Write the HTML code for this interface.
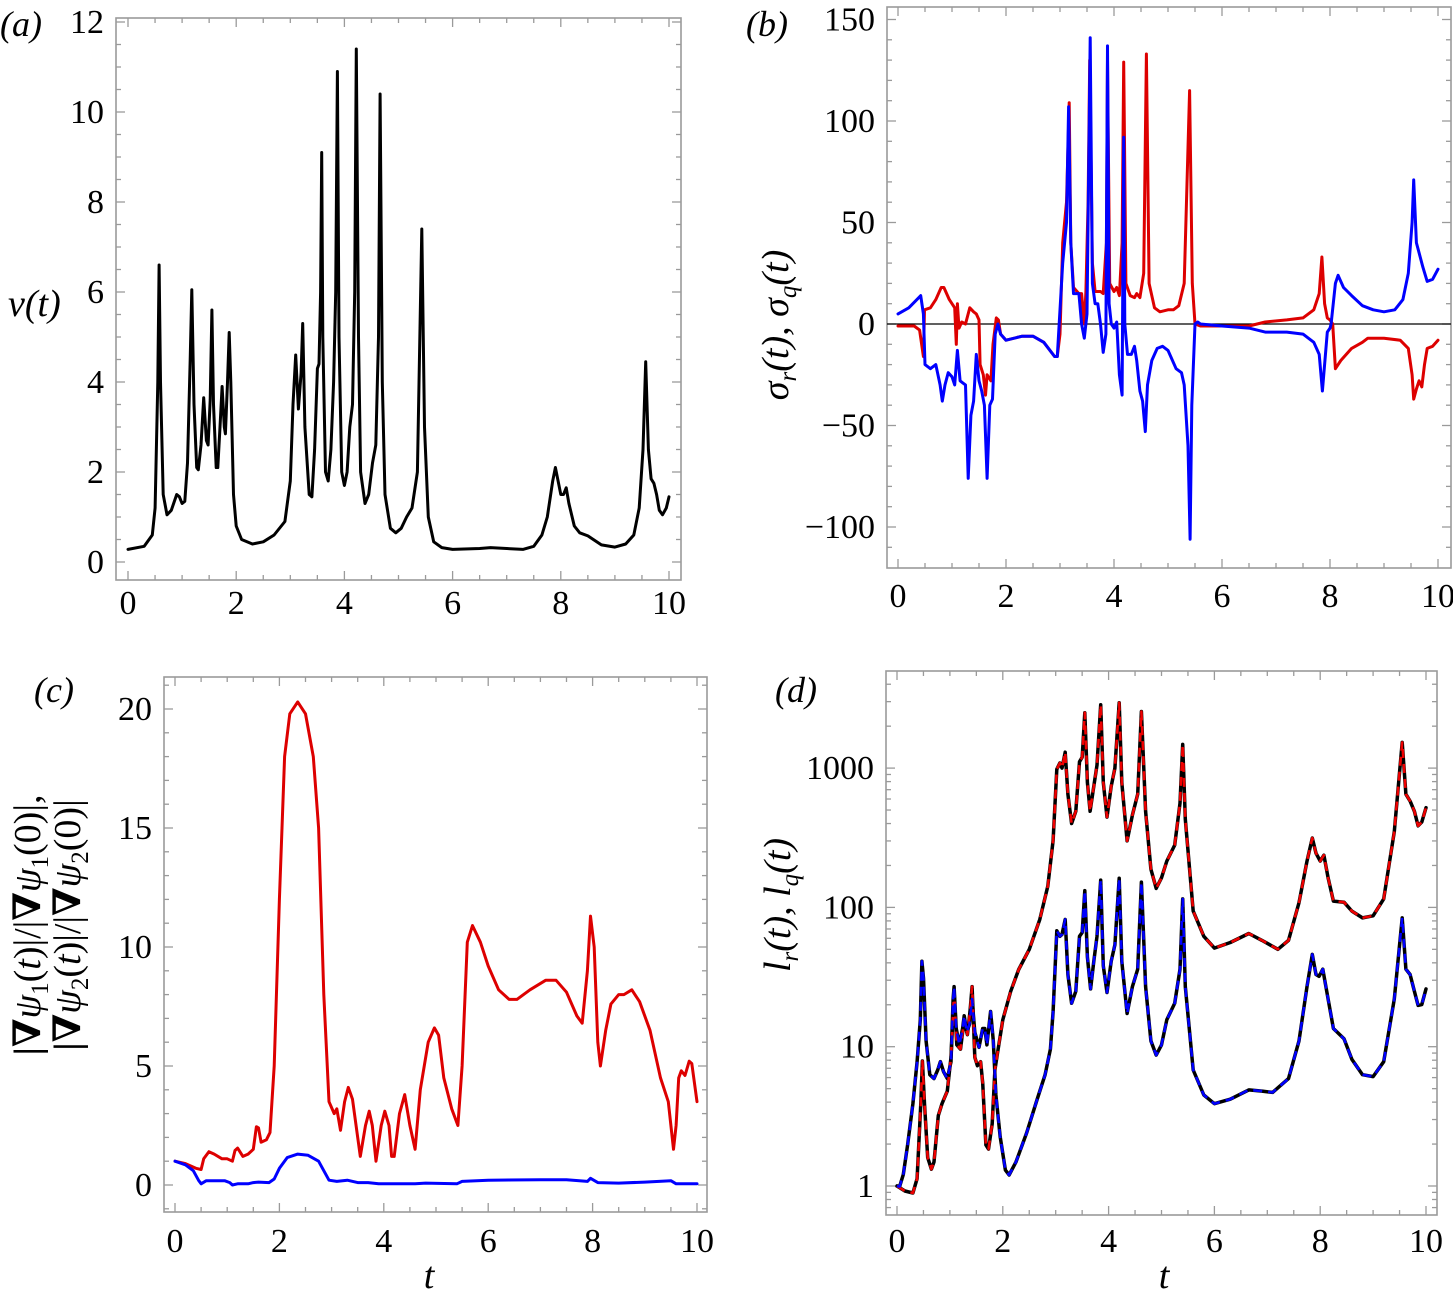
<!DOCTYPE html>
<html><head><meta charset="utf-8">
<style>
html,body{margin:0;padding:0;background:#fff;}
svg, svg text{font-family:"Liberation Serif","DejaVu Serif",serif;}
</style></head>
<body>
<svg id="fig" width="1453" height="1299" viewBox="0 0 1453 1299" xmlns="http://www.w3.org/2000/svg" font-family="Liberation Serif, DejaVu Serif, serif">
<g font-size="36" font-style="italic">
<text x="0" y="36">(a)</text>
<text x="746" y="36">(b)</text>
<text x="34" y="702">(c)</text>
<text x="775" y="702">(d)</text>
</g>
<text x="8" y="316" font-size="38" font-style="italic">v(t)</text>
<text transform="translate(788,325) rotate(-90)" text-anchor="middle" font-size="38" font-style="italic">σ<tspan font-size="25" dy="8">r</tspan><tspan dy="-8">(t), σ</tspan><tspan font-size="25" dy="8">q</tspan><tspan dy="-8">(t)</tspan></text>
<g font-size="38">
<text transform="translate(40,925) rotate(-90)" text-anchor="middle"><tspan font-weight="bold">|∇</tspan><tspan font-style="italic">ψ</tspan><tspan font-size="25" dy="8">1</tspan><tspan dy="-8">(</tspan><tspan font-style="italic">t</tspan>)|/|<tspan font-weight="bold">∇</tspan><tspan font-style="italic">ψ</tspan><tspan font-size="25" dy="8">1</tspan><tspan dy="-8">(0)|,</tspan></text>
<text transform="translate(80,925) rotate(-90)" text-anchor="middle"><tspan font-weight="bold">|∇</tspan><tspan font-style="italic">ψ</tspan><tspan font-size="25" dy="8">2</tspan><tspan dy="-8">(</tspan><tspan font-style="italic">t</tspan>)|/|<tspan font-weight="bold">∇</tspan><tspan font-style="italic">ψ</tspan><tspan font-size="25" dy="8">2</tspan><tspan dy="-8">(0)|</tspan></text>
</g>
<text transform="translate(790,905) rotate(-90)" text-anchor="middle" font-size="38" font-style="italic">l<tspan font-size="25" dy="8">r</tspan><tspan dy="-8">(t), l</tspan><tspan font-size="25" dy="8">q</tspan><tspan dy="-8">(t)</tspan></text>
<text x="429" y="1288" text-anchor="middle" font-size="38" font-style="italic">t</text>
<text x="1164" y="1288" text-anchor="middle" font-size="38" font-style="italic">t</text>
</svg>
<script>
// ---------- Panel (a) data ----------
const aT=[0,0.3,0.45,0.5,0.55,0.575,0.6,0.65,0.72,0.8,0.9,0.95,1.0,1.05,1.1,1.15,1.18,1.22,1.27,1.3,1.35,1.4,1.45,1.48,1.52,1.55,1.58,1.63,1.66,1.7,1.74,1.78,1.8,1.84,1.87,1.9,1.95,2.0,2.1,2.3,2.5,2.7,2.9,3.0,3.05,3.1,3.15,3.2,3.23,3.27,3.35,3.4,3.45,3.5,3.53,3.56,3.58,3.6,3.65,3.7,3.75,3.8,3.84,3.87,3.9,3.95,4.0,4.05,4.1,4.15,4.19,4.22,4.26,4.3,4.38,4.45,4.52,4.58,4.63,4.66,4.7,4.75,4.85,4.95,5.05,5.15,5.25,5.35,5.43,5.48,5.55,5.65,5.8,6.0,6.5,6.7,7.0,7.3,7.5,7.65,7.75,7.85,7.9,7.95,8.0,8.05,8.1,8.15,8.25,8.35,8.5,8.6,8.75,9.0,9.2,9.35,9.45,9.52,9.57,9.62,9.67,9.72,9.77,9.82,9.88,9.95,10];
const aV=[0.28,0.35,0.6,1.2,4,6.6,4,1.5,1.05,1.15,1.5,1.45,1.3,1.35,2.2,4.5,6.05,3.5,2.1,2.05,2.6,3.65,2.7,2.6,3.6,5.6,3.5,2.1,2.1,3,3.9,3.0,2.85,4,5.1,4,1.5,0.8,0.5,0.4,0.45,0.6,0.9,1.8,3.5,4.6,3.4,4.2,5.3,3,1.5,1.45,2.5,4.3,4.4,6,9.1,5,2,1.8,2.5,4,6,10.9,5,2,1.7,2,3.0,3.5,6,11.4,5,2,1.3,1.5,2.2,2.6,5,10.4,4,1.5,0.75,0.65,0.75,1.0,1.2,2,7.4,3,1,0.45,0.32,0.28,0.3,0.32,0.3,0.28,0.35,0.6,1.0,1.8,2.1,1.8,1.5,1.5,1.65,1.3,0.8,0.65,0.58,0.5,0.38,0.33,0.4,0.6,1.2,2.5,4.45,2.5,1.85,1.75,1.5,1.15,1.05,1.2,1.45];
const aXTicks=[0,2,4,6,8,10];
const aYTicks=[0,2,4,6,8,10,12];

// ---------- Panel (b) data ----------
const bRedT=[0,0.3,0.4,0.47,0.49,0.6,0.7,0.8,0.85,0.95,1.05,1.08,1.1,1.13,1.18,1.25,1.33,1.4,1.45,1.5,1.52,1.58,1.62,1.65,1.72,1.76,1.82,1.86,1.9,2.0,2.3,2.5,2.7,2.9,2.95,3.0,3.05,3.12,3.17,3.2,3.25,3.35,3.4,3.45,3.48,3.52,3.55,3.6,3.65,3.75,3.8,3.86,3.88,3.92,4.0,4.05,4.1,4.15,4.18,4.22,4.3,4.38,4.42,4.48,4.55,4.6,4.65,4.75,4.85,5.0,5.1,5.2,5.3,5.4,5.45,5.5,5.6,6.0,6.5,6.8,7.2,7.5,7.7,7.8,7.85,7.9,7.95,8.0,8.05,8.1,8.2,8.4,8.6,8.7,9.0,9.3,9.45,9.52,9.55,9.6,9.65,9.7,9.75,9.8,9.9,10];
const bRedV=[-1,-1,-3,-16,7,8,12,18,18,12,8,-10,10,-2,1,0,8,6,5,2,-20,-25,-35,-25,-28,-10,3,2,-5,-8,-6,-6,-9,-16,-16,-5,40,60,109,40,18,15,15,0,16,60,130,30,16,16,15,40,130,20,16,18,14,40,129,20,14,13,15,13,25,133,20,8,6,7,7,9,20,115,20,0,-1,-1,-1,1,2,3,7,15,33,10,3,2,0,-22,-18,-12,-9,-7,-7,-8,-12,-25,-37,-32,-28,-31,-20,-12,-11,-8];
const bBlueT=[0,0.2,0.35,0.42,0.47,0.5,0.6,0.7,0.78,0.82,0.87,0.93,1.0,1.05,1.1,1.15,1.2,1.25,1.3,1.35,1.4,1.45,1.5,1.55,1.6,1.65,1.7,1.75,1.8,1.85,1.9,2.0,2.3,2.5,2.7,2.9,2.95,3.05,3.12,3.16,3.2,3.25,3.35,3.4,3.45,3.5,3.56,3.6,3.65,3.7,3.75,3.8,3.85,3.88,3.91,3.95,4.0,4.05,4.1,4.15,4.18,4.2,4.25,4.32,4.38,4.42,4.48,4.53,4.58,4.62,4.7,4.8,4.9,5.0,5.15,5.25,5.3,5.37,5.41,5.44,5.5,5.55,5.6,6.0,6.5,6.8,7.2,7.5,7.7,7.8,7.86,7.9,7.95,8.0,8.02,8.1,8.15,8.25,8.4,8.6,8.8,9.0,9.2,9.35,9.45,9.52,9.55,9.6,9.65,9.72,9.8,9.9,10];
const bBlueV=[5,8,12,14,5,-20,-22,-20,-30,-38,-30,-24,-26,-30,-13,-28,-29,-30,-76,-45,-38,-15,-28,-33,-40,-76,-40,-37,-5,0,-5,-8,-6,-6,-9,-16,-16,30,50,107,40,15,15,0,-7,5,141,20,10,10,0,-14,-5,137,10,0,-2,1,-25,-35,92,0,-15,-15,-11,-18,-33,-38,-53,-30,-18,-12,-11,-13,-22,-24,-30,-60,-106,-40,0,1,0,-1,-2,-4,-4,-5,-9,-15,-33,-20,-4,-2,0,20,24,18,14,9,7,6,7,12,25,50,71,40,35,28,21,22,27];
const bXTicks=[0,2,4,6,8,10];
const bYTicks=[-100,-50,0,50,100,150];
const bYTickLabels=["\u2212100","\u221250","0","50","100","150"];

// ---------- Panel (c) data ----------
const cRedT=[0,0.2,0.4,0.5,0.55,0.65,0.75,0.9,1.0,1.1,1.15,1.2,1.3,1.4,1.5,1.56,1.6,1.65,1.75,1.82,1.9,2.0,2.1,2.2,2.35,2.5,2.65,2.75,2.85,2.95,3.05,3.1,3.17,3.25,3.32,3.4,3.5,3.55,3.65,3.72,3.78,3.85,3.95,4.02,4.1,4.15,4.2,4.3,4.4,4.5,4.6,4.7,4.85,4.97,5.05,5.15,5.3,5.42,5.5,5.6,5.7,5.85,6.0,6.2,6.4,6.55,6.8,7.1,7.3,7.5,7.7,7.8,7.9,7.96,8.03,8.1,8.15,8.25,8.35,8.5,8.6,8.75,8.9,9.1,9.3,9.45,9.55,9.6,9.65,9.7,9.77,9.85,9.9,10];
const cRedV=[1.0,0.9,0.7,0.65,1.1,1.4,1.3,1.1,1.1,1.0,1.45,1.55,1.2,1.3,1.5,2.45,2.4,1.8,1.9,2.2,5,12,18,19.8,20.3,19.8,18,15,8,3.5,3,3.2,2.3,3.5,4.1,3.6,2,1.2,2.5,3.1,2.5,1.0,2.5,3.1,2.5,1.2,1.2,3,3.8,2.5,1.5,4,6,6.6,6.3,4.5,3.2,2.5,5,10.2,10.9,10.2,9.2,8.2,7.8,7.8,8.2,8.6,8.6,8.1,7.1,6.8,9,11.3,10,6,5,6.5,7.6,8,8,8.2,7.7,6.5,4.5,3.5,1.5,2.5,4.5,4.8,4.6,5.2,5.1,3.5];
const cBlueT=[0,0.2,0.35,0.45,0.5,0.6,0.8,0.95,1.05,1.1,1.2,1.3,1.4,1.5,1.6,1.8,1.9,2.0,2.15,2.35,2.55,2.75,2.85,2.95,3.1,3.3,3.5,3.7,3.9,4.2,4.6,4.8,5.4,5.5,6.0,7.0,7.5,7.9,7.96,8.1,8.5,9.0,9.5,9.6,10];
const cBlueV=[1.0,0.85,0.6,0.2,0.05,0.18,0.18,0.18,0.1,0.0,0.05,0.05,0.05,0.1,0.12,0.1,0.25,0.7,1.15,1.3,1.25,1.0,0.6,0.2,0.15,0.2,0.1,0.1,0.05,0.05,0.05,0.08,0.05,0.15,0.2,0.22,0.22,0.15,0.28,0.1,0.08,0.12,0.18,0.05,0.05];
const cXTicks=[0,2,4,6,8,10];
const cYTicks=[0,5,10,15,20];

// ---------- Panel (d) data ----------
const dRT=[0,0.15,0.3,0.38,0.45,0.48,0.52,0.58,0.65,0.7,0.78,0.85,0.95,1.02,1.08,1.13,1.2,1.27,1.33,1.38,1.42,1.47,1.52,1.58,1.62,1.68,1.73,1.8,1.85,1.9,2.0,2.15,2.3,2.5,2.7,2.85,2.95,3.02,3.08,3.12,3.18,3.23,3.3,3.38,3.45,3.5,3.55,3.6,3.65,3.72,3.78,3.85,3.9,3.97,4.05,4.12,4.2,4.25,4.35,4.45,4.55,4.62,4.7,4.8,4.9,5.0,5.1,5.25,5.35,5.4,5.45,5.6,5.8,6.0,6.3,6.65,6.9,7.2,7.4,7.6,7.75,7.85,7.92,8.0,8.07,8.15,8.25,8.45,8.6,8.8,9.0,9.2,9.4,9.55,9.62,9.7,9.78,9.85,9.92,10];
const dRV=[1,0.92,0.89,1.13,3.9,7.9,3.9,1.6,1.32,1.49,3.2,3.9,4.8,8.4,25,10.3,9.6,15.6,12.2,17.9,27,8.4,7.3,7.8,5.5,1.97,1.84,2.8,6.8,9,15.6,25,35.8,50,82,142,302,980,1090,1000,1300,650,400,490,1110,1200,2500,790,490,740,1050,2850,790,445,740,1000,2950,790,300,460,650,2550,490,188,137,163,215,280,560,1480,430,94,62,51,56,65,58,50,58,108,215,315,245,215,237,163,111,109,94,84,87,115,350,1530,650,580,490,385,410,520];
const dQT=[0,0.05,0.12,0.2,0.3,0.38,0.44,0.47,0.5,0.55,0.62,0.7,0.77,0.82,0.88,0.95,1.02,1.06,1.08,1.12,1.18,1.24,1.27,1.32,1.37,1.42,1.47,1.55,1.62,1.66,1.7,1.77,1.82,1.87,1.95,2.05,2.12,2.25,2.45,2.65,2.8,2.9,2.95,3.02,3.08,3.12,3.18,3.23,3.3,3.38,3.45,3.5,3.55,3.6,3.66,3.72,3.78,3.85,3.9,3.97,4.05,4.12,4.2,4.25,4.35,4.45,4.55,4.62,4.7,4.8,4.9,5.0,5.1,5.25,5.35,5.4,5.45,5.6,5.8,6.0,6.3,6.65,6.9,7.1,7.4,7.6,7.75,7.85,7.92,7.98,8.05,8.15,8.25,8.45,8.6,8.8,9.0,9.2,9.4,9.55,9.62,9.7,9.78,9.85,9.92,10];
const dQV=[1,0.99,1.21,1.97,3.9,7.8,15.6,41,31,11,6.3,5.9,6.8,7.8,6.6,5.9,7.8,22,27,13.5,10.3,13.5,16.7,12.7,14.5,22,12.7,9.9,13.5,13.5,10.3,17.9,11,4.5,2.25,1.3,1.2,1.49,2.4,4.2,6.3,9.6,17.9,68,62,64,82,33,20.5,25,62,66,132,44,26,41,62,157,38,24.5,41,54,162,41,17.3,27,36,152,27,11,8.7,10.3,15.6,20.5,36,115,27,6.8,4.5,3.9,4.2,4.9,4.8,4.7,5.9,11,27,46,33,32,36,22,13.5,11.4,8.1,6.3,6.1,7.8,22,84,36,33,25,19.8,20.1,26];
const dYMajor=[1,10,100,1000];

const NS="http://www.w3.org/2000/svg";
const svg=document.getElementById('fig');
const FONT='Liberation Serif, DejaVu Serif, serif';
function mk(tag,attrs,parent){const e=document.createElementNS(NS,tag);for(const k in attrs)e.setAttribute(k,attrs[k]);(parent||svg).appendChild(e);return e;}

function frame(p,name){
  const g=mk('g',{});
  
  
  const r=mk('rect',{x:p.L,y:p.T,width:p.R-p.L,height:p.B-p.T,fill:'none',stroke:'#9a9a9a','stroke-width':1.6},g);
  
  
  return g;
}
function tickX(g,p,x,len){
  mk('line',{x1:x,x2:x,y1:p.B,y2:p.B-len,stroke:'#9a9a9a','stroke-width':1.3},g);
  mk('line',{x1:x,x2:x,y1:p.T,y2:p.T+len,stroke:'#9a9a9a','stroke-width':1.3},g);
}
function tickY(g,p,y,len){
  mk('line',{x1:p.L,x2:p.L+len,y1:y,y2:y,stroke:'#9a9a9a','stroke-width':1.3},g);
  mk('line',{x1:p.R,x2:p.R-len,y1:y,y2:y,stroke:'#9a9a9a','stroke-width':1.3},g);
}
function xAxis(g,p,ticks,labY){
  for(let t=0;t<=10.001;t+=0.5){tickX(g,p,p.xs(t),Math.abs(t-Math.round(t/2)*2)<1e-6?9:5);}
  ticks.forEach(t=>{const e=mk('text',{x:p.xs(t),y:labY,'text-anchor':'middle','font-size':34,'font-family':FONT},g);e.textContent=String(t);
    
    });
}
function yAxis(g,p,ticks,labels,lo,hi,minor){
  for(let v=lo;v<=hi+1e-6;v+=minor){const isMaj=ticks.some(t=>Math.abs(t-v)<1e-6);tickY(g,p,p.ys(v),isMaj?9:5);}
  ticks.forEach((t,i)=>{const e=mk('text',{x:p.L-12,y:p.ys(t)+11,'text-anchor':'end','font-size':34,'font-family':FONT},g);e.textContent=labels?labels[i]:String(t);
    
    });
}
function line(p,T,V,style,name){
  let d='';for(let i=0;i<T.length;i++){d+=(i?'L':'M')+p.xs(T[i]).toFixed(1)+','+p.ys(V[i]).toFixed(1);}
  const e=mk('path',Object.assign({d:d,fill:'none','stroke-linejoin':'round','stroke-linecap':'round'},style));
  
  
  return e;
}

// Panel a
const pa={L:116,R:681,T:18,B:580,xs:t=>128+t*54.1,ys:v=>562-v*45};
const ga=frame(pa,'panel-a');
xAxis(ga,pa,aXTicks,614);
yAxis(ga,pa,aYTicks,null,0,12,0.5);
line(pa,aT,aV,{stroke:'#000','stroke-width':3},'series-v');

// Panel b
const pb={L:887,R:1451,T:7,B:568,xs:t=>898+t*54.0,ys:v=>324-v*2.03};
const gb=frame(pb,'panel-b');
xAxis(gb,pb,bXTicks,607);
yAxis(gb,pb,bYTicks,bYTickLabels,-110,150,10);
const zl=mk('line',{x1:pb.L,x2:pb.R,y1:pb.ys(0),y2:pb.ys(0),stroke:'#000','stroke-width':1.3});


line(pb,bRedT,bRedV,{stroke:'#dd0000','stroke-width':3},'series-sigma-r');
line(pb,bBlueT,bBlueV,{stroke:'#0000ff','stroke-width':3},'series-sigma-q');

// Panel c
const pc={L:164,R:707,T:677,B:1212,xs:t=>175+t*52.2,ys:v=>1185-v*23.8};
const gc=frame(pc,'panel-c');
xAxis(gc,pc,cXTicks,1252);
yAxis(gc,pc,cYTicks,null,-1,21,1);
line(pc,cRedT,cRedV,{stroke:'#dd0000','stroke-width':3},'series-psi1');
line(pc,cBlueT,cBlueV,{stroke:'#0000ff','stroke-width':3},'series-psi2');

// Panel d (log)
const pd={L:886,R:1437,T:671,B:1215,xs:t=>897+t*52.9,ys:v=>1186-Math.log10(v)*139.3};
const gd=frame(pd,'panel-d');
xAxis(gd,pd,cXTicks,1252);
for(let dec=0.1;dec<=1000;dec*=10){for(let k=1;k<10;k++){const v=dec*k;const y=pd.ys(v);if(y<pd.T||y>pd.B)continue;tickY(gd,pd,y,k===1?9:5);}}
dYMajor.forEach(t=>{const e=mk('text',{x:pd.L-12,y:pd.ys(t)+11,'text-anchor':'end','font-size':34,'font-family':FONT},gd);e.textContent=String(t);
  
  });
line(pd,dRT,dRV,{stroke:'#000','stroke-width':3.5},'series-lr-black');
line(pd,dQT,dQV,{stroke:'#000','stroke-width':3.5},'series-lq-black');
line(pd,dRT,dRV,{stroke:'#ee0000','stroke-width':2.6,'stroke-dasharray':'9,6','stroke-linecap':'butt'},'series-lr-red-dashed');
line(pd,dQT,dQV,{stroke:'#0000ff','stroke-width':2.6,'stroke-dasharray':'9,6','stroke-linecap':'butt'},'series-lq-blue-dashed');
</script>
</body></html>
